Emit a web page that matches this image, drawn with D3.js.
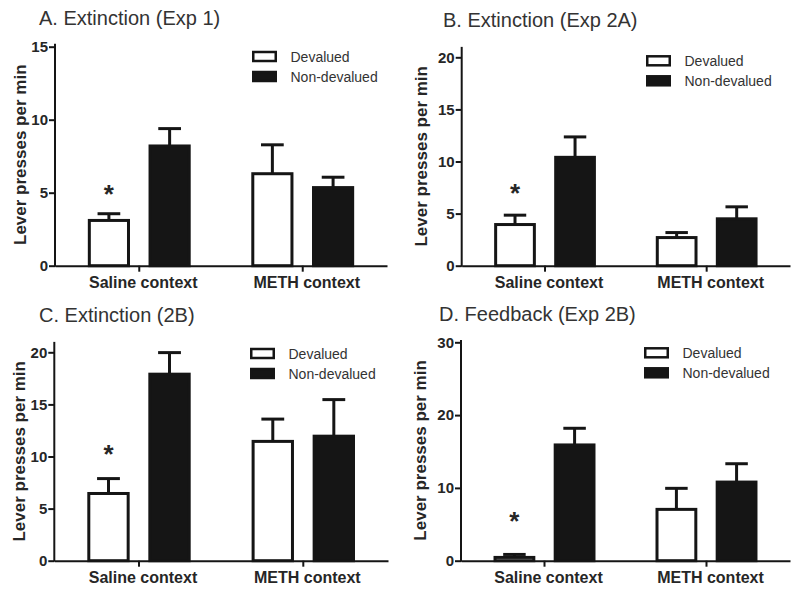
<!DOCTYPE html>
<html><head><meta charset="utf-8">
<script src="https://cdn.jsdelivr.net/npm/d3@7"></script>
<style>body{margin:0;background:#fff}</style>
</head><body>
<svg id="chart" width="800" height="595"></svg>
<script>
// ---- data ----
const titles = ["A. Extinction (Exp 1)", "B. Extinction (Exp 2A)", "C. Extinction (2B)", "D. Feedback (Exp 2B)"];
const categories = ["Saline context", "METH context"];
const seriesNames = ["Devalued", "Non-devalued"];
const yAxisLabel = "Lever presses per min";
const yMaxes = [15, 20, 20, 30];
const tickSteps = [5, 5, 5, 10];
const axisTops = [15.2, 21, 21, 30.3];
// [saline, METH] for each panel
const devaluedMean = [[3.1, 6.3], [3.95, 2.7], [6.45, 11.45], [0.45, 7.05]];
const devaluedSEM = [[0.46, 1.98], [0.9, 0.48], [1.43, 2.14], [0.41, 2.89]];
const nondevaluedMean = [[8.2, 5.35], [10.4, 4.5], [17.9, 11.95], [15.9, 10.8]];
const nondevaluedSEM = [[1.19, 0.71], [1.96, 1.15], [2.07, 3.51], [2.29, 2.52]];
const asteriskLevel = [5.3, 7.55, 10.8, 6.2];

// ---- layout ----
const layout = [
  {x0: 55, x1: 387, yTop: 46.7, y0: 265.7, titleX: 39, titleY: 25, ylabX: 25.5, legX: 252, legY: 56.5},
  {x0: 461.7, x1: 790, yTop: 57.3, y0: 265.7, titleX: 443, titleY: 26.7, ylabX: 427, legX: 646, legY: 60.8},
  {x0: 54.3, x1: 388, yTop: 352.3, y0: 560.7, titleX: 39, titleY: 321.5, ylabX: 24.5, legX: 250, legY: 353.5},
  {x0: 461, x1: 790, yTop: 342.3, y0: 560.7, titleX: 439, titleY: 320.5, ylabX: 425.5, legX: 644, legY: 352.8}
];
const FONT = "'Liberation Sans', Arial, Helvetica, sans-serif";
const INK = "#151515";
const TXT = "#262626";

const svg = d3.select("#chart");

layout.forEach((L, i) => {
  const g = svg.append("g");
  const y = d3.scaleLinear().domain([0, yMaxes[i]]).range([L.y0, L.yTop]);
  const x = d3.scaleBand().domain(categories).range([L.x0, L.x1]).paddingInner(0.389).paddingOuter(0.21);
  const xs = d3.scaleBand().domain(seriesNames).range([0, x.bandwidth()]).paddingInner(0.355);

  // title
  g.append("text").attr("x", L.titleX).attr("y", L.titleY)
    .attr("font-family", FONT).attr("font-size", 20).attr("fill", "#333")
    .text(titles[i]);

  // y label
  g.append("text")
    .attr("transform", `translate(${L.ylabX},${(L.y0 + y(axisTops[i])) / 2}) rotate(-90)`)
    .attr("text-anchor", "middle").attr("font-family", FONT).attr("font-size", 17)
    .attr("font-weight", "bold").attr("fill", TXT).text(yAxisLabel);

  // y axis
  const ticks = d3.range(0, yMaxes[i] + 0.001, tickSteps[i]);
  const ya = g.append("g").attr("transform", `translate(${L.x0},0)`)
    .call(d3.axisLeft(y).tickValues(ticks).tickSize(6).tickPadding(1));
  ya.select(".domain").remove();
  ya.selectAll("line").attr("stroke", INK).attr("stroke-width", 2);
  ya.selectAll("text").attr("font-family", FONT).attr("font-size", 15)
    .attr("font-weight", "bold").attr("fill", TXT);
  g.append("line").attr("x1", L.x0).attr("x2", L.x0)
    .attr("y1", y(0) + 1).attr("y2", y(axisTops[i]))
    .attr("stroke", INK).attr("stroke-width", 2);

  // bars
  const rows = [];
  categories.forEach((c, ci) => {
    rows.push({cat: c, ser: seriesNames[0], mean: devaluedMean[i][ci], sem: devaluedSEM[i][ci]});
    rows.push({cat: c, ser: seriesNames[1], mean: nondevaluedMean[i][ci], sem: nondevaluedSEM[i][ci]});
  });
  const capW = xs.bandwidth() * 0.58;
  rows.forEach(d => {
    const bx = x(d.cat) + xs(d.ser);
    const cx = bx + xs.bandwidth() / 2;
    // error bar (upper)
    g.append("line").attr("x1", cx).attr("x2", cx)
      .attr("y1", y(d.mean)).attr("y2", y(d.mean + d.sem))
      .attr("stroke", INK).attr("stroke-width", 3);
    g.append("line").attr("x1", cx - capW / 2).attr("x2", cx + capW / 2)
      .attr("y1", y(d.mean + d.sem)).attr("y2", y(d.mean + d.sem))
      .attr("stroke", INK).attr("stroke-width", 3);
    g.append("rect").attr("x", bx).attr("width", xs.bandwidth())
      .attr("y", y(d.mean)).attr("height", y(0) - y(d.mean))
      .attr("fill", d.ser === seriesNames[0] ? "#fff" : INK)
      .attr("stroke", INK).attr("stroke-width", 3);
  });

  // x axis
  const xa = g.append("g").attr("transform", `translate(0,${L.y0})`)
    .call(d3.axisBottom(x).tickSize(6).tickSizeOuter(0).tickPadding(5));
  xa.select(".domain").attr("stroke", INK).attr("stroke-width", 2);
  xa.selectAll("line").attr("stroke", INK).attr("stroke-width", 2);
  xa.selectAll("text").attr("font-family", FONT).attr("font-size", 16)
    .attr("font-weight", "bold").attr("fill", TXT).attr("dx", 4);

  // asterisk
  const sx = x(categories[0]) + xs(seriesNames[0]) + xs.bandwidth() / 2;
  g.append("text").attr("x", sx).attr("y", y(asteriskLevel[i]) + 14.5)
    .attr("text-anchor", "middle").attr("font-family", FONT).attr("font-size", 26)
    .attr("font-weight", "bold").attr("fill", TXT).text("*");

  // legend
  seriesNames.forEach((s, si) => {
    const cy = L.legY + si * 20;
    g.append("rect").attr("x", L.legX + 1.25).attr("y", cy - 4.5).attr("width", 22.5).attr("height", 9)
      .attr("fill", si === 0 ? "#fff" : INK).attr("stroke", INK).attr("stroke-width", 2.5);
    g.append("text").attr("x", L.legX + 38.5).attr("y", cy + 5)
      .attr("font-family", FONT).attr("font-size", 14).attr("fill", "#333").text(s);
  });
});
</script>
</body></html>
